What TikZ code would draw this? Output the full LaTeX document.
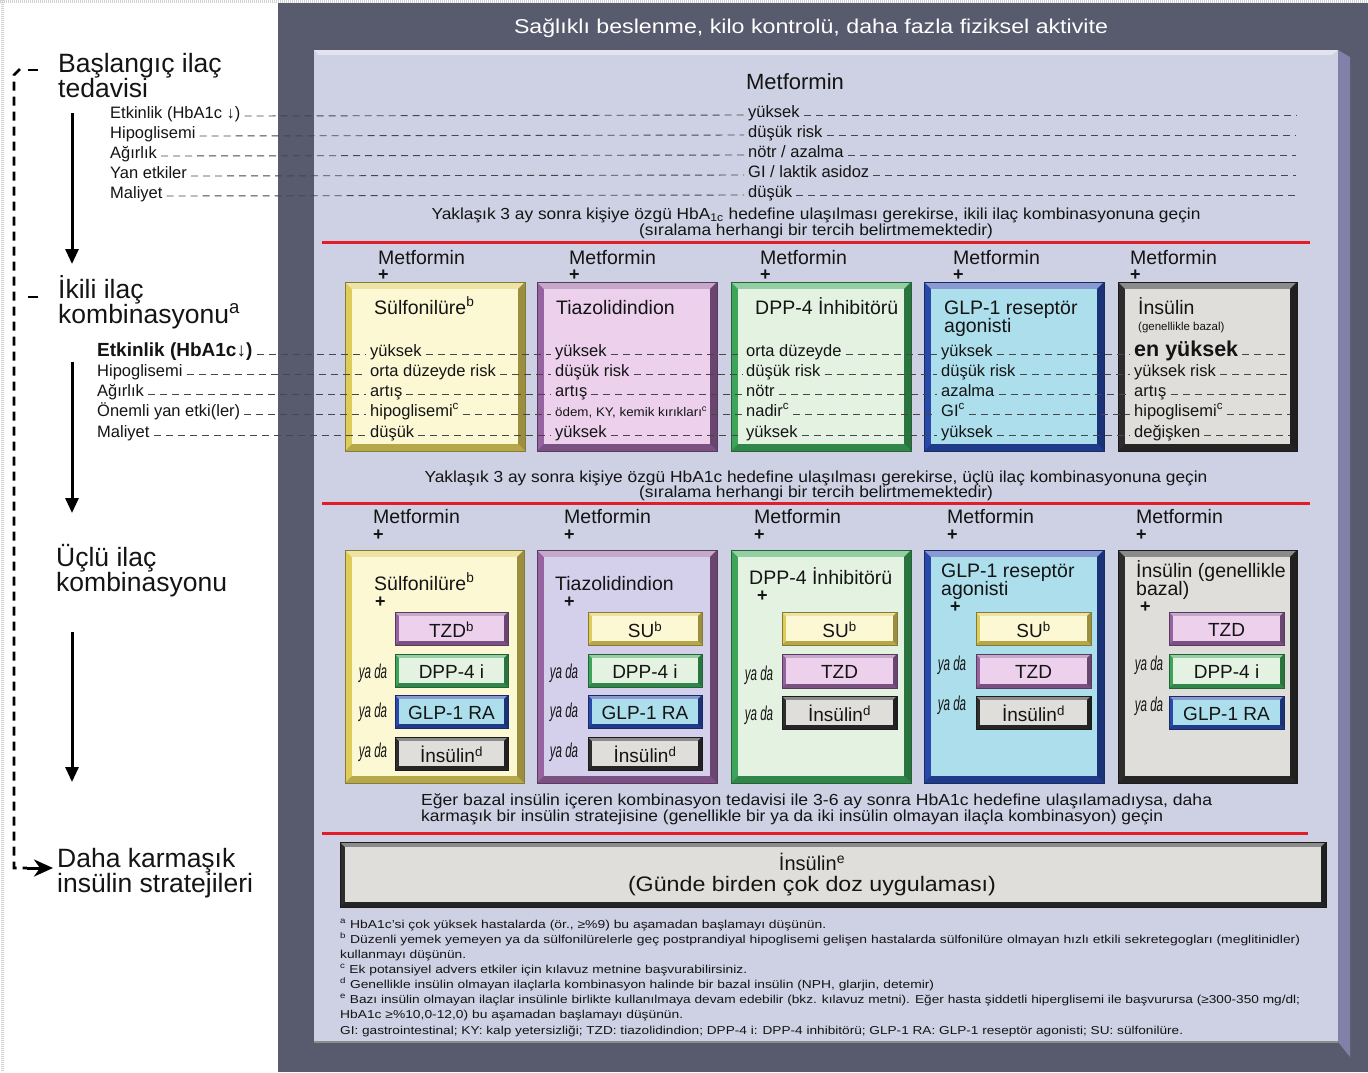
\documentclass[tikz,border=0pt]{standalone}
\usepackage{graphicx}
\usepackage{fontspec}
\setmainfont{Liberation Sans}
\usetikzlibrary{arrows.meta,calc}
\newsavebox\fitbox
\newlength\fitlen
\newcommand\fitx[2]{\sbox\fitbox{#2}\setlength\fitlen{\wd\fitbox}\pgfmathsetmacro\fxs{#1/\fitlen}\scalebox{\fxs}[1]{\usebox\fitbox}}
\newcommand\fs[2]{\fontsize{#1}{#2}\selectfont}
\definecolor{darkbg}{RGB}{88,90,110}
\definecolor{panel}{RGB}{206,208,227}
\definecolor{panelhi}{RGB}{226,227,238}
\definecolor{paneldk}{RGB}{128,128,168}
\definecolor{redl}{RGB}{226,28,40}
\definecolor{yfr}{RGB}{222,204,90}
\definecolor{yfill}{RGB}{252,248,212}
\definecolor{pfr}{RGB}{150,98,160}
\definecolor{pfill}{RGB}{236,208,236}
\definecolor{pfillb}{RGB}{212,208,236}
\definecolor{gfr}{RGB}{60,165,90}
\definecolor{gfill}{RGB}{228,242,226}
\definecolor{bfr}{RGB}{40,72,170}
\definecolor{bfill}{RGB}{172,222,236}
\definecolor{kfr}{RGB}{45,45,45}
\definecolor{kfill}{RGB}{224,222,218}
\definecolor{ink}{RGB}{20,20,20}
\definecolor{dashc}{RGB}{70,70,75}
% bevelled box: x1 y1 x2 y2 frame fill width
\newcommand\bev[7]{%
  \fill[#5] (#1,#2) rectangle (#3,#4);
  \fill[#5!55!white] (#1,#2) -- (#3,#2) -- (#3-#7,#2+#7) -- (#1+#7,#2+#7) -- cycle;
  \fill[#5!70!black] (#3,#2) -- (#3,#4) -- (#3-#7,#4-#7) -- (#3-#7,#2+#7) -- cycle;
  \fill[#5!82!black] (#1,#4) -- (#3,#4) -- (#3-#7,#4-#7) -- (#1+#7,#4-#7) -- cycle;
  \fill[#6] (#1+#7,#2+#7) rectangle (#3-#7,#4-#7);
  \draw[#5!60!black, line width=0.8pt] (#1,#2) rectangle (#3,#4);}
% inner option box: name x1 y1 x2 y2 frame fill text
\newcommand\ibox[8]{\bev{#2}{#3}{#4}{#5}{#6}{#7}{4}%
  \node[font=\fs{19}{20}] (#1) at ({(#2+#4)/2},{(#3+#5)/2+1}) {#8};}
\tikzset{
  txt/.style={inner sep=0pt, text=ink, anchor=base west},
  big/.style={txt, font=\fs{26.5}{26}},
  lab/.style={txt, font=\fs{16.5}{20}},
  val/.style={txt, font=\fs{16.5}{20}},
  head/.style={txt, font=\fs{19.5}{20}},
  plus/.style={txt, font=\fs{18}{20}\bfseries},
  fn/.style={txt, font=\fs{11.5}{14}},
  yada/.style={inner sep=0pt, text=ink, font=\fs{20}{20}\itshape},
  dl/.style={draw=dashc, line width=0.9pt, dash pattern=on 7pt off 5pt},
  redrule/.style={draw=redl, line width=3pt},
  ldash/.style={draw=black, line width=2.6pt, dash pattern=on 9pt off 6pt},
  varrow/.style={draw=black, line width=3pt, -{Triangle[length=15pt,width=13pt]}}
}
\begin{document}
\begin{tikzpicture}[x=1pt,y=-1pt, every node/.style={inner sep=0pt, text=ink}]
\useasboundingbox (0,0) rectangle (1368,1072);
\fill[white] (0,0) rectangle (1368,1072);
\draw[black!18, line width=3pt, dash pattern=on 1pt off 1pt] (2,0) -- (2,1072);
\draw[black!18, line width=3pt, dash pattern=on 1pt off 1pt] (0,1.5) -- (1368,1.5);
\fill[darkbg] (278,3) rectangle (1368,1072);
% inner panel
\fill[panel] (314,50) rectangle (1338,1042);
\fill[panelhi] (314,50) -- (1338,50) -- (1332,55) -- (318,55) -- cycle;
\fill[paneldk] (1338,50) -- (1350,57) -- (1350,1057) -- (1338,1042) -- cycle;
\draw[black!45, line width=1.2pt] (314,1042) -- (1338,1042);

% title
\node[font=\fs{20}{24}, text=white] (title) at (811,28) {\fitx{594}{Sağlıklı beslenme, kilo kontrolü, daha fazla fiziksel aktivite}};

% ---------- left column ----------
\node[big] (s1a) at (58,72) {Başlangıç ilaç};
\node[big] (s1b) at (58,97) {tedavisi};
\node[big] (s2a) at (58,298) {İkili ilaç};
\node[big] (s2b) at (58,323) {kombinasyonu\textsuperscript{a}};
\node[big] (s3a) at (56,566) {Üçlü ilaç};
\node[big] (s3b) at (56,591) {kombinasyonu};
\node[big] (s4a) at (57,867) {Daha karmaşık};
\node[big] (s4b) at (57,892) {insülin stratejileri};

\coordinate (dtop) at (20,69);
\coordinate (dcorner) at (14,868);
\coordinate (dend) at (27,868);
\coordinate (dtip) at (53,868);
\draw[ldash] (dtop) -- (14,75) -- (dcorner) -- (dend);
\draw[line width=3pt, -{Stealth[length=19pt,width=17pt,inset=6pt]}] (dend) -- (dtip);
\draw[line width=2.6pt] (28,70) -- (38,70);
\draw[line width=2.6pt] (28,297) -- (38,297);

\coordinate (a1s) at (72,113); \coordinate (a1e) at (72,264);
\coordinate (a2s) at (72,362); \coordinate (a2e) at (72,513);
\coordinate (a3s) at (72,632); \coordinate (a3e) at (72,782);
\draw[varrow] (a1s) -- (a1e);
\draw[varrow] (a2s) -- (a2e);
\draw[varrow] (a3s) -- (a3e);

% ---------- stage 1: metformin ----------
\node[font=\fs{22}{24}] (met0) at (795,82) {Metformin};
\node[lab] (m1) at (110,118) {Etkinlik (HbA1c {\bfseries ↓})};
\node[lab] (m2) at (110,138) {Hipoglisemi};
\node[lab] (m3) at (110,158) {Ağırlık};
\node[lab] (m4) at (110,178) {Yan etkiler};
\node[lab] (m5) at (110,198) {Maliyet};
\node[val] (n1) at (748,117) {yüksek};
\node[val] (n2) at (748,137) {düşük risk};
\node[val] (n3) at (748,157) {nötr / azalma};
\node[val] (n4) at (748,177) {GI / laktik asidoz};
\node[val] (n5) at (748,197) {düşük};
\foreach \r/\y in {1/117,2/137,3/157,4/177,5/197}{
  \coordinate (p\r) at (1296,\y-2);
  \draw[dl] ([xshift=4pt,yshift=2pt]m\r.base east) -- ([xshift=-4pt,yshift=2pt]n\r.base west);
  \draw[dl] ([xshift=4pt,yshift=2pt]n\r.base east) -- (p\r);
}
\node[font=\fs{16}{16}, align=center] (t1) at (816,223) {\fitx{769}{Yaklaşık 3 ay sonra kişiye özgü HbA\textsubscript{1c} hedefine ulaşılması gerekirse, ikili ilaç kombinasyonuna geçin}\\ \fitx{354}{(sıralama herhangi bir tercih belirtmemektedir)}};
\draw[redrule] (322,242) -- (1310,242);

% ---------- stage 2: dual ----------
\foreach \x [count=\i] in {378,569,760,953,1130}{
  \node[head] (mf\i) at (\x,264) {Metformin};
  \node[plus] (pl\i) at (\x,280) {+};
}
\bev{345}{282}{525}{451}{yfr}{yfill}{7}
\bev{537}{282}{717}{451}{pfr}{pfill}{7}
\bev{731}{282}{911}{451}{gfr}{gfill}{7}
\bev{924}{282}{1104}{451}{bfr}{bfill}{7}
\bev{1118}{282}{1297}{451}{kfr}{kfill}{7}
\node[head] (h1) at (374,314) {Sülfonilüre\textsuperscript{b}};
\node[head] (h2) at (556,314) {Tiazolidindion};
\node[head] (h3) at (755,314) {DPP-4 İnhibitörü};
\node[head] (h4) at (944,314) {GLP-1 reseptör};
\node[head] (h4b) at (944,332) {agonisti};
\node[head] (h5) at (1138,314) {İnsülin};
\node[txt, font=\fs{11.5}{12}] (h5b) at (1138,330) {(genellikle bazal)};

\node[txt, font=\fs{19}{20}\bfseries] (L1) at (97,356) {Etkinlik (HbA1c↓)};
\node[lab] (L2) at (97,376) {Hipoglisemi};
\node[lab] (L3) at (97,396) {Ağırlık};
\node[lab] (L4) at (97,416) {Önemli yan etki(ler)};
\node[lab] (L5) at (97,437) {Maliyet};

\node[val] (v11) at (370,356) {yüksek};
\node[val] (v12) at (370,376) {orta düzeyde risk};
\node[val] (v13) at (370,396) {artış};
\node[val] (v14) at (370,416) {hipoglisemi\textsuperscript{c}};
\node[val] (v15) at (370,437) {düşük};
\node[val] (v21) at (555,356) {yüksek};
\node[val] (v22) at (555,376) {düşük risk};
\node[val] (v23) at (555,396) {artış};
\node[txt, font=\fs{12.5}{14}] (v24) at (555,416) {\fitx{152}{ödem, KY, kemik kırıkları\textsuperscript{c}}};
\node[val] (v25) at (555,437) {yüksek};
\node[val] (v31) at (746,356) {orta düzeyde};
\node[val] (v32) at (746,376) {düşük risk};
\node[val] (v33) at (746,396) {nötr};
\node[val] (v34) at (746,416) {nadir\textsuperscript{c}};
\node[val] (v35) at (746,437) {yüksek};
\node[val] (v41) at (941,356) {yüksek};
\node[val] (v42) at (941,376) {düşük risk};
\node[val] (v43) at (941,396) {azalma};
\node[val] (v44) at (941,416) {GI\textsuperscript{c}};
\node[val] (v45) at (941,437) {yüksek};
\node[txt, font=\fs{21.5}{22}\bfseries] (v51) at (1134,356) {en yüksek};
\node[val] (v52) at (1134,376) {yüksek risk};
\node[val] (v53) at (1134,396) {artış};
\node[val] (v54) at (1134,416) {hipoglisemi\textsuperscript{c}};
\node[val] (v55) at (1134,437) {değişken};
\foreach \r/\y in {1/356,2/376,3/396,4/416,5/437}{
  \coordinate (q\r) at (1290,\y-2);
  \draw[dl] ([xshift=4pt,yshift=2pt]L\r.base east) -- ([xshift=-4pt,yshift=2pt]v1\r.base west);
  \foreach \i/\j in {1/2,2/3,3/4,4/5}{
    \draw[dl] ([xshift=4pt,yshift=2pt]v\i\r.base east) -- ([xshift=-4pt,yshift=2pt]v\j\r.base west);
  }
  \draw[dl] ([xshift=4pt,yshift=2pt]v5\r.base east) -- (q\r);
}
\node[font=\fs{16}{15.5}, align=center] (t2) at (816,486) {\fitx{783}{Yaklaşık 3 ay sonra kişiye özgü HbA1c hedefine ulaşılması gerekirse, üçlü ilaç kombinasyonuna geçin}\\ \fitx{354}{(sıralama herhangi bir tercih belirtmemektedir)}};
\draw[redrule] (322,503) -- (1310,503);

% ---------- stage 3: triple ----------
\foreach \x [count=\i] in {373,564,754,947,1136}{
  \node[head] (mg\i) at (\x,523) {Metformin};
  \node[plus] (pm\i) at (\x,540) {+};
}
\bev{345}{550}{524}{783}{yfr}{yfill}{7}
\bev{537}{550}{717}{783}{pfr}{pfillb}{7}
\bev{731}{550}{911}{783}{gfr}{gfill}{7}
\bev{924}{550}{1104}{783}{bfr}{bfill}{7}
\bev{1118}{550}{1297}{783}{kfr}{kfill}{7}

\node[head] (k1) at (374,590) {Sülfonilüre\textsuperscript{b}};
\node[plus] (kp1) at (375,607) {+};
\node[head] (k2) at (555,590) {Tiazolidindion};
\node[plus] (kp2) at (564,607) {+};
\node[head] (k3) at (749,584) {DPP-4 İnhibitörü};
\node[plus] (kp3) at (757,601) {+};
\node[head] (k4) at (941,577) {GLP-1 reseptör};
\node[head] (k4b) at (941,595) {agonisti};
\node[plus] (kp4) at (950,612) {+};
\node[head] (k5) at (1136,577) {İnsülin (genellikle};
\node[head] (k5b) at (1136,595) {bazal)};
\node[plus] (kp5) at (1140,612) {+};

\ibox{c11}{395}{612}{508}{645}{pfr}{pfill}{TZD\textsuperscript{b}}
\ibox{c12}{395}{654}{508}{687}{gfr}{gfill}{DPP-4 i}
\ibox{c13}{395}{695}{508}{728}{bfr}{bfill}{GLP-1 RA}
\ibox{c14}{395}{737}{508}{770}{kfr}{kfill}{İnsülin\textsuperscript{d}}
\ibox{c21}{588}{612}{702}{645}{yfr}{yfill}{SU\textsuperscript{b}}
\ibox{c22}{588}{654}{702}{687}{gfr}{gfill}{DPP-4 i}
\ibox{c23}{588}{695}{702}{728}{bfr}{bfill}{GLP-1 RA}
\ibox{c24}{588}{737}{702}{770}{kfr}{kfill}{İnsülin\textsuperscript{d}}
\ibox{c31}{782}{612}{897}{645}{yfr}{yfill}{SU\textsuperscript{b}}
\ibox{c32}{782}{654}{897}{688}{pfr}{pfill}{TZD}
\ibox{c33}{782}{696}{897}{729}{kfr}{kfill}{İnsülin\textsuperscript{d}}
\ibox{c41}{976}{612}{1091}{645}{yfr}{yfill}{SU\textsuperscript{b}}
\ibox{c42}{976}{654}{1091}{688}{pfr}{pfill}{TZD}
\ibox{c43}{976}{696}{1091}{729}{kfr}{kfill}{İnsülin\textsuperscript{d}}
\ibox{c51}{1169}{612}{1284}{645}{pfr}{pfill}{TZD}
\ibox{c52}{1169}{654}{1284}{688}{gfr}{gfill}{DPP-4 i}
\ibox{c53}{1169}{696}{1284}{729}{bfr}{bfill}{GLP-1 RA}

\foreach \x/\y/\n in {373/673/y12,373/712/y13,373/752/y14,
                       564/673/y22,564/712/y23,564/752/y24,
                       759/675/y32,759/715/y33,
                       952/665/y42,952/705/y43,
                       1149/665/y52,1149/706/y53}{
  \node[yada] (\n) at (\x,\y) {\scalebox{0.58}[1]{ya da}};
}

\node[txt, font=\fs{16}{16}] (b1) at (421,805) {\fitx{791}{Eğer bazal insülin içeren kombinasyon tedavisi ile 3-6 ay sonra HbA1c hedefine ulaşılamadıysa, daha}};
\node[txt, font=\fs{16}{16}] (b2) at (421,821) {\fitx{742}{karmaşık bir insülin stratejisine (genellikle bir ya da iki insülin olmayan ilaçla kombinasyon) geçin}};
\draw[redrule] (322,833) -- (1308,833);

% ---------- stage 4 ----------
\bev{340}{842}{1326}{907}{kfr}{kfill}{5}
\node[font=\fs{20}{22}] (ins1) at (812,862) {İnsülin\textsuperscript{e}};
\node[font=\fs{21}{22}] (ins2) at (812,886) {\fitx{368}{(Günde birden çok doz uygulaması)}};

% ---------- footnotes ----------
\node[fn] (f1) at (340,928) {\fitx{486}{\textsuperscript{a} HbA1c'si çok yüksek hastalarda (ör., ≥\%9) bu aşamadan başlamayı düşünün.}};
\node[fn] (f2) at (340,943) {\fitx{960}{\textsuperscript{b} Düzenli yemek yemeyen ya da sülfonilürelerle geç postprandiyal hipoglisemi gelişen hastalarda sülfonilüre olmayan hızlı etkili sekretegogları (meglitinidler)}};
\node[fn] (f3) at (340,958) {\fitx{126}{kullanmayı düşünün.}};
\node[fn] (f4) at (340,973) {\fitx{407}{\textsuperscript{c} Ek potansiyel advers etkiler için kılavuz metnine başvurabilirsiniz.}};
\node[fn] (f5) at (340,988) {\fitx{594}{\textsuperscript{d} Genellikle insülin olmayan ilaçlarla kombinasyon halinde bir bazal insülin (NPH, glarjin, detemir)}};
\node[fn] (f6) at (340,1003) {\fitx{960}{\textsuperscript{e} Bazı insülin olmayan ilaçlar insülinle birlikte kullanılmaya devam edebilir (bkz. kılavuz metni). Eğer hasta şiddetli hiperglisemi ile başvurursa (≥300-350 mg/dl;}};
\node[fn] (f7) at (340,1018) {\fitx{343}{HbA1c ≥\%10,0-12,0) bu aşamadan başlamayı düşünün.}};
\node[fn] (f8) at (340,1034) {\fitx{843}{GI: gastrointestinal; KY: kalp yetersizliği; TZD: tiazolidindion; DPP-4 i: DPP-4 inhibitörü; GLP-1 RA: GLP-1 reseptör agonisti; SU: sülfonilüre.}};
\end{tikzpicture}
\end{document}
